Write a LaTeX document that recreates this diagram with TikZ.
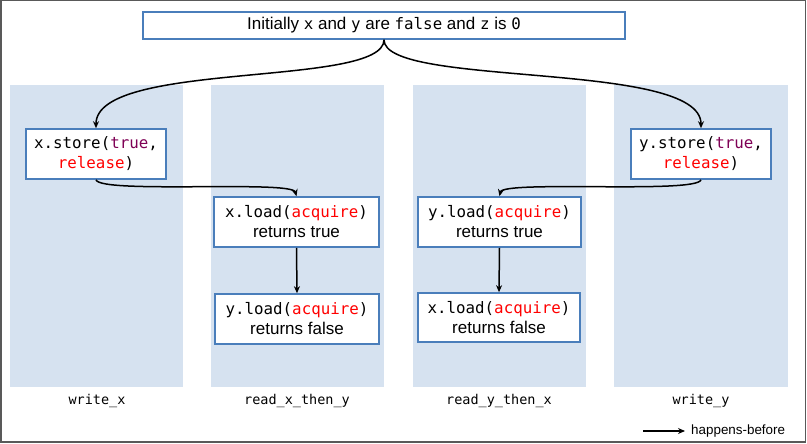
\documentclass[tikz,border=0pt]{standalone}
\usepackage{fontspec}
\setmainfont{Liberation Sans}
\setmonofont{DejaVu Sans Mono}
\usetikzlibrary{arrows.meta}
\definecolor{colfill}{RGB}{214,226,240}
\definecolor{boxline}{RGB}{74,126,187}
\definecolor{kwpurple}{RGB}{127,0,85}
\definecolor{kwred}{RGB}{255,0,0}
\definecolor{framegray}{RGB}{89,89,89}
\newcommand\cmono[1]{{\fontsize{15.8}{20}\selectfont\ttfamily #1}}
\newcommand\kwp[1]{\textcolor{kwpurple}{#1}}
\newcommand\kwr[1]{\textcolor{kwred}{#1}}
\begin{document}
\begin{tikzpicture}[x=1pt,y=-1pt,
  op/.style={draw=boxline, line width=1.6pt, fill=white, minimum width=#1, minimum height=50pt, inner sep=0pt, align=center, font=\fontsize{17}{20}\selectfont},
  lane/.style={fill=colfill},
  hb/.style={-{Stealth[length=7pt,width=6pt]}, line width=1.5pt},
  lanelabel/.style={font=\fontsize{13.5}{16}\selectfont\ttfamily, inner sep=0pt}]
\useasboundingbox (0,0) rectangle (807,444);
\draw[framegray, line width=1.5pt] (0.75,0.75) rectangle (805.5,442);
% lanes
\fill[lane] (9.5,85.5) rectangle (182.5,386.5);
\fill[lane] (211,85.5) rectangle (384,386.5);
\fill[lane] (413,85.5) rectangle (586,386.5);
\fill[lane] (614,85.5) rectangle (788,386.5);
% top
\node[op=482pt, minimum height=27pt] (top) at (384,25.5) {Initially \cmono{x} and \cmono{y} are \cmono{false} and \cmono{z} is \cmono{0}};
% boxes
\node[op=140pt] (xs) at (96,154) {\cmono{x.store(\kwp{true},}\\\cmono{\kwr{release})}};
\node[op=140pt] (ys) at (701,154) {\cmono{y.store(\kwp{true},}\\\cmono{\kwr{release})}};
\node[op=165pt] (xl) at (296.5,222) {\cmono{x.load(\kwr{acquire})}\\returns true};
\node[op=164pt] (ylf) at (297,319) {\cmono{y.load(\kwr{acquire})}\\returns false};
\node[op=163pt] (yl) at (499.5,222) {\cmono{y.load(\kwr{acquire})}\\returns true};
\node[op=162pt, minimum height=49pt] (xlf) at (499,317.5) {\cmono{x.load(\kwr{acquire})}\\returns false};
% labels
\node[lanelabel] (l1) at (97,401) {write\_x};
\node[lanelabel] (l2) at (297,401) {read\_x\_then\_y};
\node[lanelabel] (l3) at (499,401) {read\_y\_then\_x};
\node[lanelabel] (l4) at (701,401) {write\_y};
% connectors
\draw[hb] (top.south) .. controls (384,88) and (96,60) .. (xs.north);
\draw[hb] (top.south) .. controls (384,88) and (701,60) .. (ys.north);
\draw[hb] (xs.south) .. controls (100,194) and (292,180) .. (xl.north);
\draw[hb] (ys.south) .. controls (697,194) and (503,180) .. (yl.north);
\draw[hb] (xl.south) -- (ylf.north);
\draw[hb] (yl.south) -- (xlf.north);
% legend
\coordinate (lgA) at (643,431);
\coordinate (lgB) at (685,431);
\draw[hb] (lgA) -- (lgB);
\node[anchor=west, inner sep=0pt, font=\fontsize{13.4}{16}\selectfont] (lgT) at (691,431) {happens-before};
\end{tikzpicture}
\end{document}
